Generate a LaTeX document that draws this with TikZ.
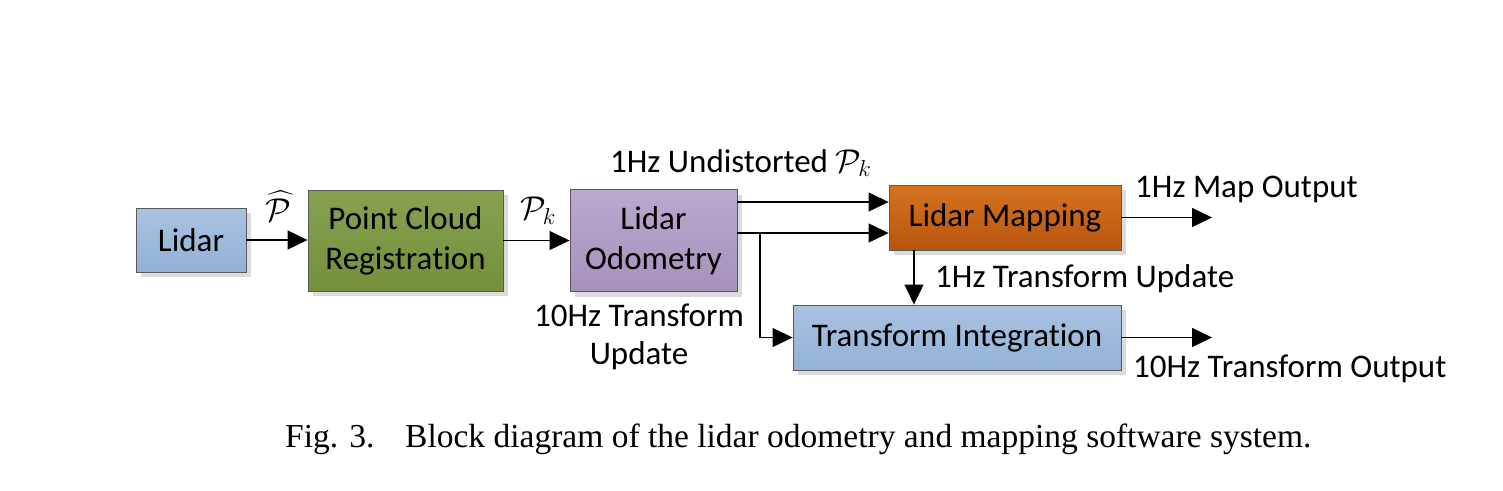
\RequirePackage{fix-cm}
\documentclass[tikz,border=0pt]{standalone}
\usepackage{amsmath}
\usepackage{fontspec}
\setmainfont[Ligatures=NoCommon]{Carlito}
\newfontfamily\capfont{Liberation Serif}
\usetikzlibrary{arrows.meta,shadows}

\definecolor{blueTop}{HTML}{A8C3E1}
\definecolor{blueBot}{HTML}{93B1D5}
\definecolor{greenTop}{HTML}{87A150}
\definecolor{greenBot}{HTML}{74903B}
\definecolor{purpleTop}{HTML}{B9A9CD}
\definecolor{purpleBot}{HTML}{A492BC}
\definecolor{orangeTop}{HTML}{D6731F}
\definecolor{orangeBot}{HTML}{B7550F}

\begin{document}
\begin{tikzpicture}[
  x=1pt, y=-1pt,
  >={Triangle[length=20pt,width=19pt]},
  block/.style={draw=black!65, line width=0.9pt, inner sep=0pt, align=center,
    font=\fontsize{33}{40}\selectfont,
    drop shadow={shadow xshift=5pt, shadow yshift=-5pt, fill=black!14, opacity=1}},
  lbl/.style={inner sep=0pt, font=\fontsize{33}{38}\selectfont},
  link/.style={->, line width=1.2pt}
]
\useasboundingbox (0,0) rectangle (1503,490);

% blocks
\node[block, top color=blueTop, bottom color=blueBot,
  minimum width=110pt, minimum height=64pt] (lidar) at (191,240) {Lidar};
\node[block, top color=greenTop, bottom color=greenBot,
  minimum width=195pt, minimum height=101pt] (pcr) at (405.5,240.5) {Point Cloud\\Registration};
\node[block, top color=purpleTop, bottom color=purpleBot,
  minimum width=167pt, minimum height=102pt] (odom) at (653.5,240.5) {Lidar\\Odometry};
\node[block, top color=orangeTop, bottom color=orangeBot,
  minimum width=232pt, minimum height=65pt] (map) at (1005,217.5) {Lidar Mapping};
\node[block, top color=blueTop, bottom color=blueBot,
  minimum width=328pt, minimum height=65pt] (integ) at (957,337.5) {Transform Integration};

% free ends and branch point
\coordinate (brk) at (760,233);
\coordinate (mapout) at (1212,217.5);
\coordinate (tfout) at (1212,337.5);

% connectors
\draw[link] (lidar.east) -- (lidar.east -| pcr.west);
\draw[link] (pcr.east |- odom) -- (odom.west);
\draw[link] (odom.east |- 0,202) -- (map.west |- 0,202);
\draw[link] (odom.east |- brk) -- (map.west |- brk);
\draw[link] (brk) |- (integ.west);
\draw[link] (map.south -| 914,0) -- (integ.north -| 914,0);
\draw[link] (map.east) -- (mapout);
\draw[link] (integ.east) -- (tfout);

% labels
\node[lbl] (phat) at (278,206) {$\widehat{\mathcal{P}}$};
\node[lbl] (pk) at (538,211) {$\mathcal{P}_k$};
\node[lbl, anchor=base west] (undist) at (610,172) {1Hz Undistorted $\mathcal{P}_k$};
\node[lbl, anchor=base west] (mapTxt) at (1135,197) {1Hz Map Output};
\node[lbl, anchor=base west] (tfUpd) at (935,287) {1Hz Transform Update};
\node[lbl, align=center] (odoUpd) at (639,337) {10Hz Transform\\Update};
\node[lbl, anchor=base west] (tfTxt) at (1133,377) {10Hz Transform Output};

% caption
\node[anchor=base west, inner sep=0pt, font=\capfont\fontsize{33.5}{38}\selectfont]
  (figno) at (285,447) {Fig. 3.};
\node[anchor=base west, inner sep=0pt, font=\capfont\fontsize{33.5}{38}\selectfont]
  (figtxt) at (405,447) {Block diagram of the lidar odometry and mapping software system.};
\end{tikzpicture}
\end{document}
